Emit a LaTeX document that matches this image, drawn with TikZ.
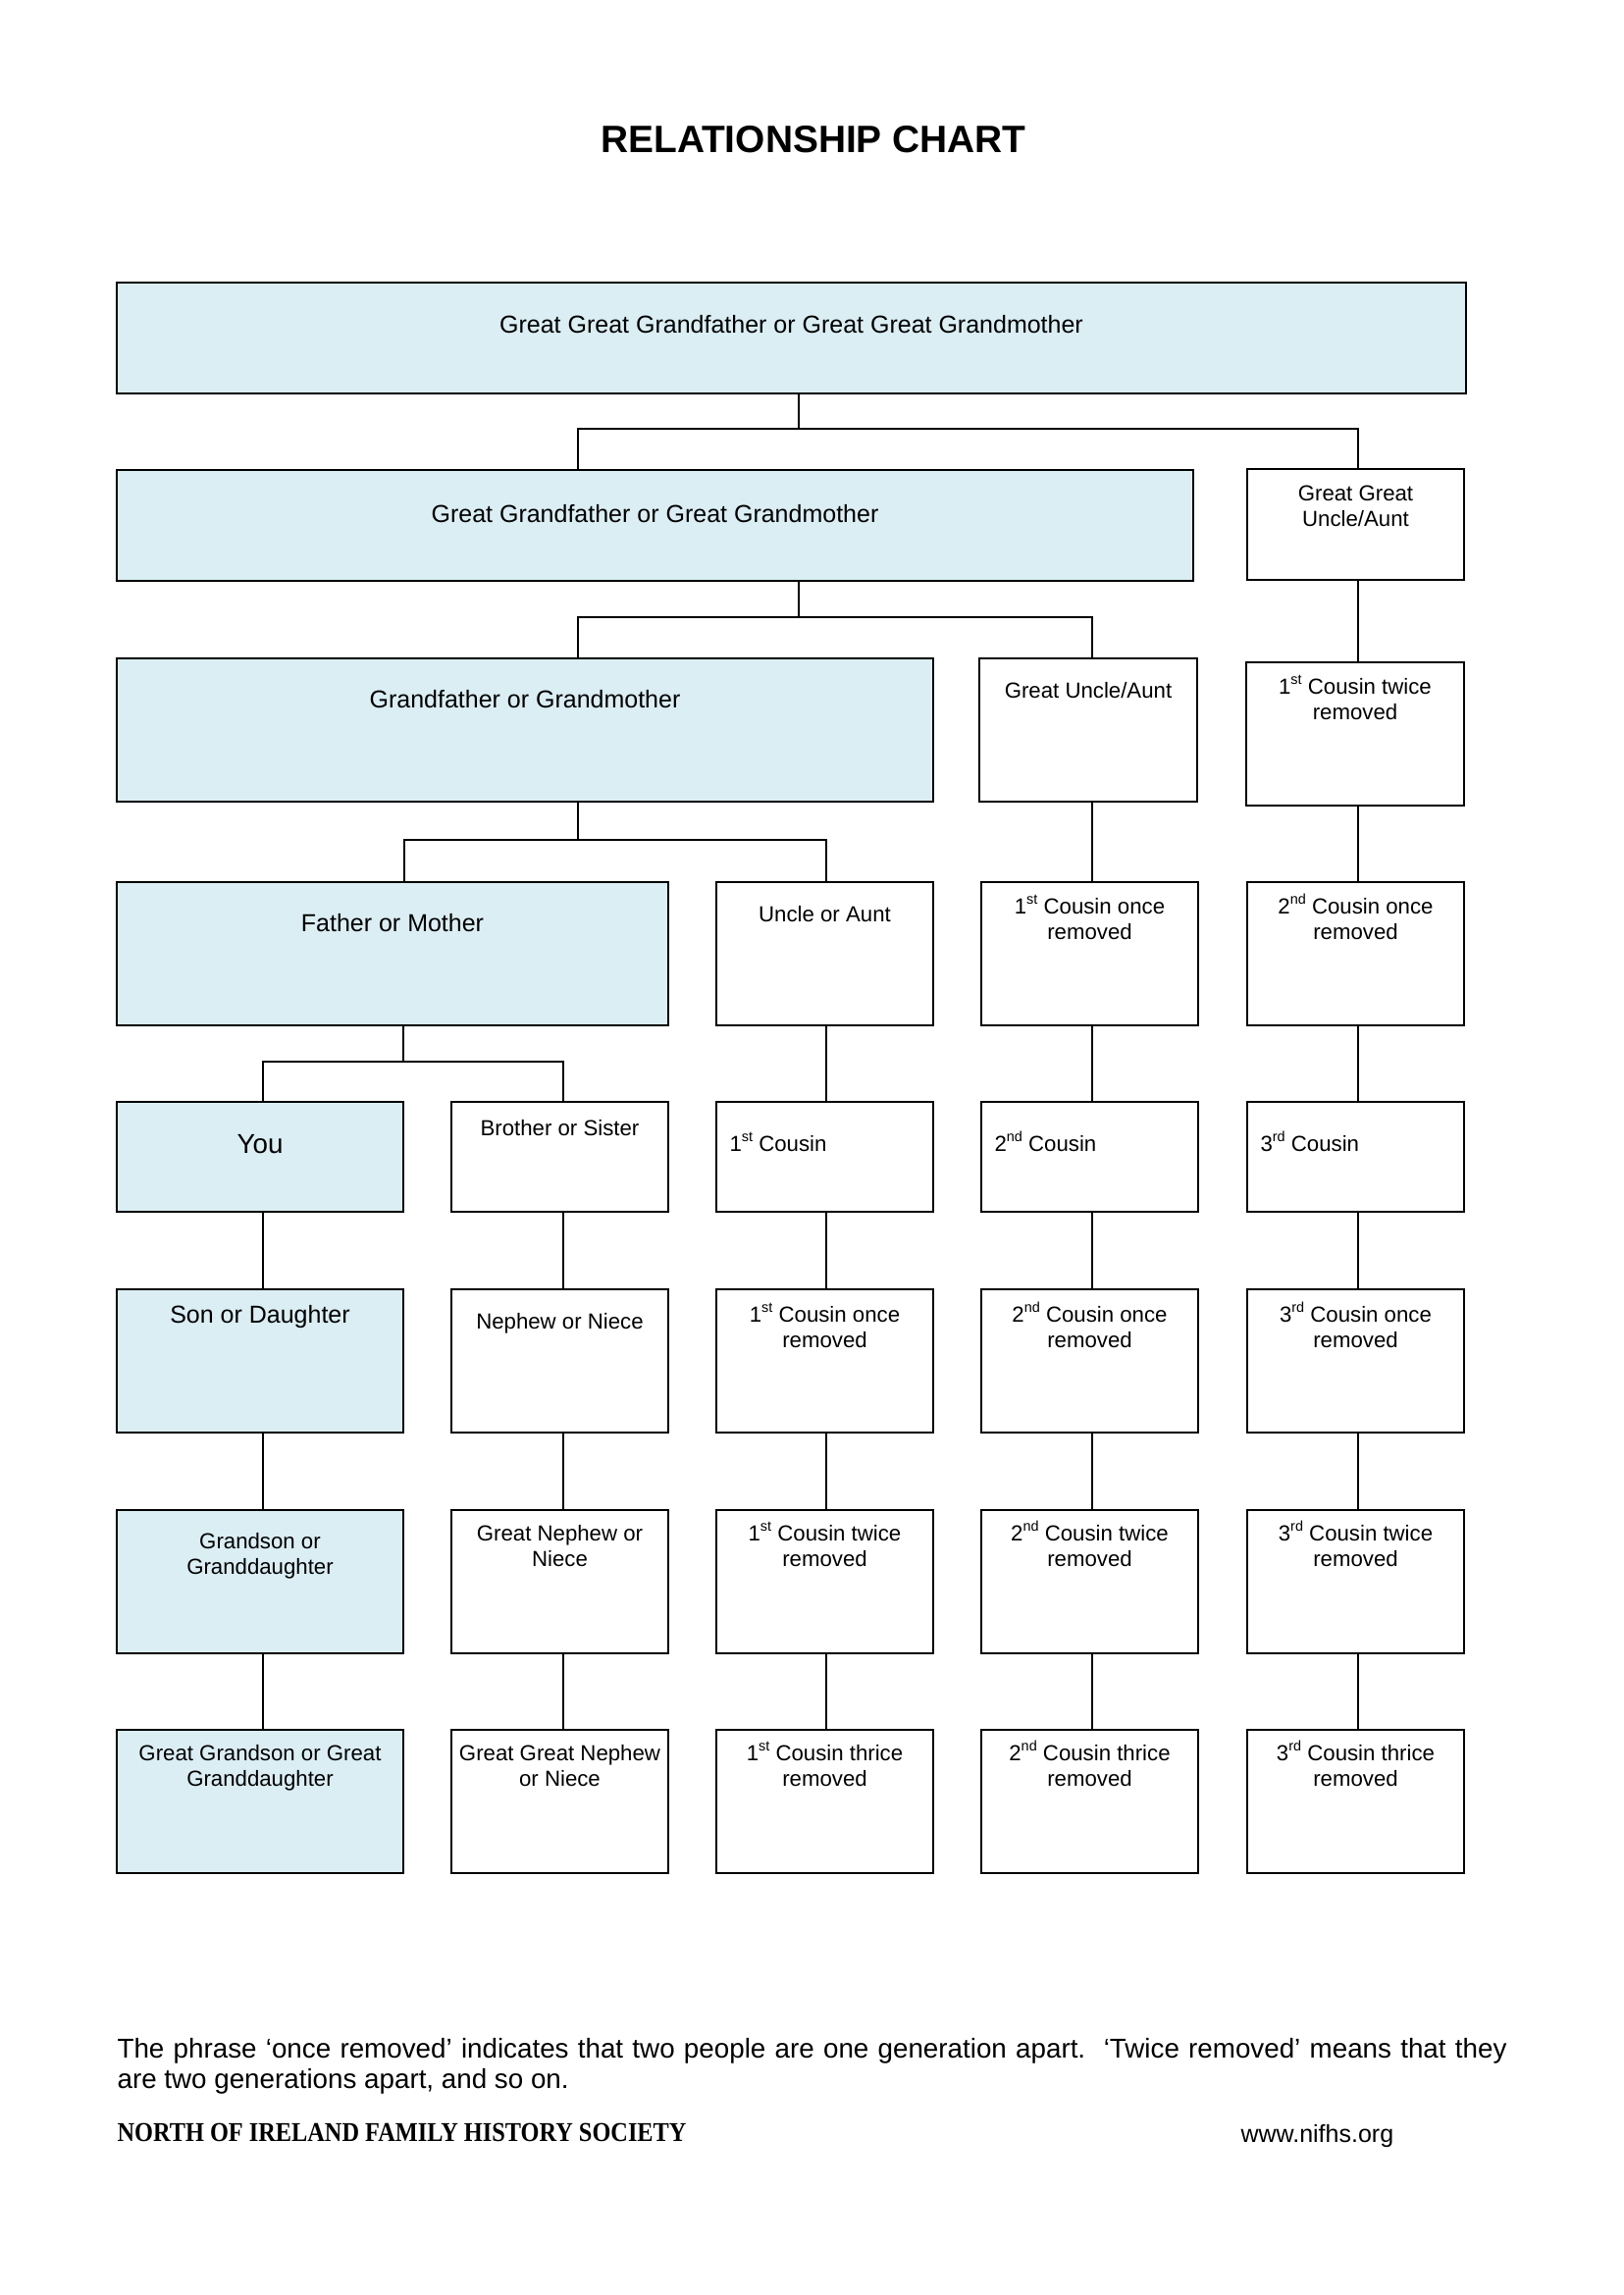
\documentclass[tikz,border=0pt]{standalone}
\usepackage{fontspec}
\usepackage{graphicx}
\setmainfont{Liberation Sans}
\newfontfamily\footfont{Liberation Serif}
\usetikzlibrary{calc}
\definecolor{relblue}{HTML}{DAEEF3}
\newcommand\sups[1]{\raisebox{0.42em}{\fontsize{5.2}{5.2}\selectfont #1}}
\newcommand\twol[2]{\begin{tabular}[t]{@{}c@{}}#1\\#2\end{tabular}}
\newcommand\relbox[6]{\node[#2, minimum width={(#5-(#3))*0.36pt}, minimum height={(#6-(#4))*0.36pt}, anchor=north west] (#1) at (#3,#4) {};}
\newcommand\rtext[4]{\node[#2] (#1-txt) at ($(#1.north)+(0,#3)$) {#4};}
\newcommand\ltext[3]{\node[tn, anchor=base west] (#1-txt) at ($(#1.north west)+(13,#2)$) {#3};}
\begin{document}
\begin{tikzpicture}[x=0.36pt,y=-0.36pt,
  box/.style={draw=black, line width=0.8pt, inner sep=0pt, outer sep=0pt},
  bluebox/.style={box, fill=relblue},
  plainbox/.style={box, fill=white},
  thinc/.style={draw=black, line width=0.45pt},
  thickc/.style={draw=black, line width=0.75pt},
  tn/.style={inner sep=0pt, anchor=base, font=\fontsize{8}{9.4}\selectfont},
  tm/.style={tn, font=\fontsize{9}{10.8}\selectfont},
  tl/.style={tn, font=\fontsize{10}{12}\selectfont},
]
\useasboundingbox (0,0) rectangle (1654,2339);

% title
\node[inner sep=0pt, anchor=base, font=\fontsize{14}{16}\selectfont\bfseries] (title) at (829,155) {RELATIONSHIP CHART};

% row 1
\relbox{top}{bluebox}{119}{288}{1494}{401}
% row 2
\relbox{gg}{bluebox}{119}{479}{1216}{592}
\relbox{ggu}{plainbox}{1271}{478}{1492}{591}
% row 3
\relbox{gf}{bluebox}{119}{671}{951}{817}
\relbox{gu}{plainbox}{998}{671}{1220}{817}
\relbox{cta}{plainbox}{1270}{675}{1492}{821}
% row 4
\relbox{fa}{bluebox}{119}{899}{681}{1045}
\relbox{un}{plainbox}{730}{899}{951}{1045}
\relbox{coa}{plainbox}{1000}{899}{1221}{1045}
\relbox{cob}{plainbox}{1271}{899}{1492}{1045}
% row 5
\relbox{you}{bluebox}{119}{1123}{411}{1235}
\relbox{bro}{plainbox}{460}{1123}{681}{1235}
\relbox{ca}{plainbox}{730}{1123}{951}{1235}
\relbox{cb}{plainbox}{1000}{1123}{1221}{1235}
\relbox{cc}{plainbox}{1271}{1123}{1492}{1235}
% row 6
\relbox{son}{bluebox}{119}{1314}{411}{1460}
\relbox{nep}{plainbox}{460}{1314}{681}{1460}
\relbox{caone}{plainbox}{730}{1314}{951}{1460}
\relbox{cbone}{plainbox}{1000}{1314}{1221}{1460}
\relbox{ccone}{plainbox}{1271}{1314}{1492}{1460}
% row 7
\relbox{gson}{bluebox}{119}{1539}{411}{1685}
\relbox{gnep}{plainbox}{460}{1539}{681}{1685}
\relbox{catwo}{plainbox}{730}{1539}{951}{1685}
\relbox{cbtwo}{plainbox}{1000}{1539}{1221}{1685}
\relbox{cctwo}{plainbox}{1271}{1539}{1492}{1685}
% row 8
\relbox{ggson}{bluebox}{119}{1763}{411}{1909}
\relbox{ggnep}{plainbox}{460}{1763}{681}{1909}
\relbox{cathr}{plainbox}{730}{1763}{951}{1909}
\relbox{cbthr}{plainbox}{1000}{1763}{1221}{1909}
\relbox{ccthr}{plainbox}{1271}{1763}{1492}{1909}

% texts
\rtext{top}{tm}{51}{Great Great Grandfather or Great Great Grandmother}
\rtext{gg}{tm}{53}{Great Grandfather or Great Grandmother}
\rtext{ggu}{tn}{32}{\twol{Great Great}{Uncle/Aunt}}
\rtext{gf}{tm}{50}{Grandfather or Grandmother}
\rtext{gu}{tn}{40}{Great Uncle/Aunt}
\rtext{cta}{tn}{32}{\twol{1\sups{st} Cousin twice}{removed}}
\rtext{fa}{tm}{50}{Father or Mother}
\rtext{un}{tn}{40}{Uncle or Aunt}
\rtext{coa}{tn}{32}{\twol{1\sups{st} Cousin once}{removed}}
\rtext{cob}{tn}{32}{\twol{2\sups{nd} Cousin once}{removed}}
\rtext{you}{tl}{52}{You}
\rtext{bro}{tn}{34}{Brother or Sister}
\ltext{ca}{50}{1\sups{st} Cousin}
\ltext{cb}{50}{2\sups{nd} Cousin}
\ltext{cc}{50}{3\sups{rd} Cousin}
\rtext{son}{tm}{34}{Son or Daughter}
\rtext{nep}{tn}{40}{Nephew or Niece}
\rtext{caone}{tn}{33}{\twol{1\sups{st} Cousin once}{removed}}
\rtext{cbone}{tn}{33}{\twol{2\sups{nd} Cousin once}{removed}}
\rtext{ccone}{tn}{33}{\twol{3\sups{rd} Cousin once}{removed}}
\rtext{gson}{tn}{39}{\twol{Grandson or}{Granddaughter}}
\rtext{gnep}{tn}{31}{\twol{Great Nephew or}{Niece}}
\rtext{catwo}{tn}{31}{\twol{1\sups{st} Cousin twice}{removed}}
\rtext{cbtwo}{tn}{31}{\twol{2\sups{nd} Cousin twice}{removed}}
\rtext{cctwo}{tn}{31}{\twol{3\sups{rd} Cousin twice}{removed}}
\rtext{ggson}{tn}{31}{\twol{Great Grandson or Great}{Granddaughter}}
\rtext{ggnep}{tn}{31}{\twol{Great Great Nephew}{or Niece}}
\rtext{cathr}{tn}{31}{\twol{1\sups{st} Cousin thrice}{removed}}
\rtext{cbthr}{tn}{31}{\twol{2\sups{nd} Cousin thrice}{removed}}
\rtext{ccthr}{tn}{31}{\twol{3\sups{rd} Cousin thrice}{removed}}

% junction coordinates
\coordinate (jA) at (814,437);
\coordinate (jAl) at (589,437);
\coordinate (jAr) at (1384,437);
\coordinate (jB) at (814,629);
\coordinate (jBl) at (589,629);
\coordinate (jBr) at (1113,629);
\coordinate (jC) at (589,856);
\coordinate (jCl) at (412,856);
\coordinate (jCr) at (842,856);
\coordinate (jD) at (411,1082);
\coordinate (jDl) at (268,1082);
\coordinate (jDr) at (574,1082);
\coordinate (xa) at (268,0);
\coordinate (xb) at (574,0);
\coordinate (xc) at (842,0);
\coordinate (xd) at (1113,0);
\coordinate (xe) at (1384,0);

% connectors
\draw[thinc] (top.south -| jA) -- (jA);
\draw[thinc] (gg.north -| jAl) |- (jAr) -- (ggu.north -| jAr);
\draw[thinc] (gg.south -| jB) -- (jB);
\draw[thinc] (gf.north -| jBl) |- (jBr) -- (gu.north -| jBr);
\draw[thinc] (ggu.south -| xe) -- (cta.north -| xe);
\draw[thickc] (gf.south -| jC) -- (jC);
\draw[thickc] (fa.north -| jCl) |- (jCr) -- (un.north -| jCr);
\draw[thinc] (gu.south -| xd) -- (coa.north -| xd);
\draw[thinc] (cta.south -| xe) -- (cob.north -| xe);
\draw[thickc] (fa.south -| jD) -- (jD);
\draw[thickc] (you.north -| jDl) |- (jDr) -- (bro.north -| jDr);
\draw[thickc] (un.south -| xc) -- (ca.north -| xc);
\draw[thinc] (coa.south -| xd) -- (cb.north -| xd);
\draw[thinc] (cob.south -| xe) -- (cc.north -| xe);

\draw[thickc] (you.south -| xa) -- (son.north -| xa);
\draw[thickc] (son.south -| xa) -- (gson.north -| xa);
\draw[thickc] (gson.south -| xa) -- (ggson.north -| xa);
\draw[thinc] (bro.south -| xb) -- (nep.north -| xb);
\draw[thinc] (nep.south -| xb) -- (gnep.north -| xb);
\draw[thinc] (gnep.south -| xb) -- (ggnep.north -| xb);
\draw[thickc] (ca.south -| xc) -- (caone.north -| xc);
\draw[thickc] (caone.south -| xc) -- (catwo.north -| xc);
\draw[thickc] (catwo.south -| xc) -- (cathr.north -| xc);
\draw[thinc] (cb.south -| xd) -- (cbone.north -| xd);
\draw[thinc] (cbone.south -| xd) -- (cbtwo.north -| xd);
\draw[thinc] (cbtwo.south -| xd) -- (cbthr.north -| xd);
\draw[thinc] (cc.south -| xe) -- (ccone.north -| xe);
\draw[thinc] (ccone.south -| xe) -- (cctwo.north -| xe);
\draw[thinc] (cctwo.south -| xe) -- (ccthr.north -| xe);

% footnote and footer
\node[inner sep=0pt, anchor=base west] (note) at (119,2097) {\parbox[t]{509.8pt}{\fontsize{10}{11.16}\selectfont The phrase ‘once removed’ indicates that two people are one generation apart.\ \ ‘Twice removed’ means that they\linebreak are two generations apart, and so on.}};
\node[inner sep=0pt, anchor=base west] (soc) at (119,2182) {\footfont\bfseries\resizebox{208.8pt}{6.6pt}{NORTH OF IRELAND FAMILY HISTORY SOCIETY}};
\node[tm, anchor=base west] (url) at (1264,2183) {www.nifhs.org};
\end{tikzpicture}
\end{document}
